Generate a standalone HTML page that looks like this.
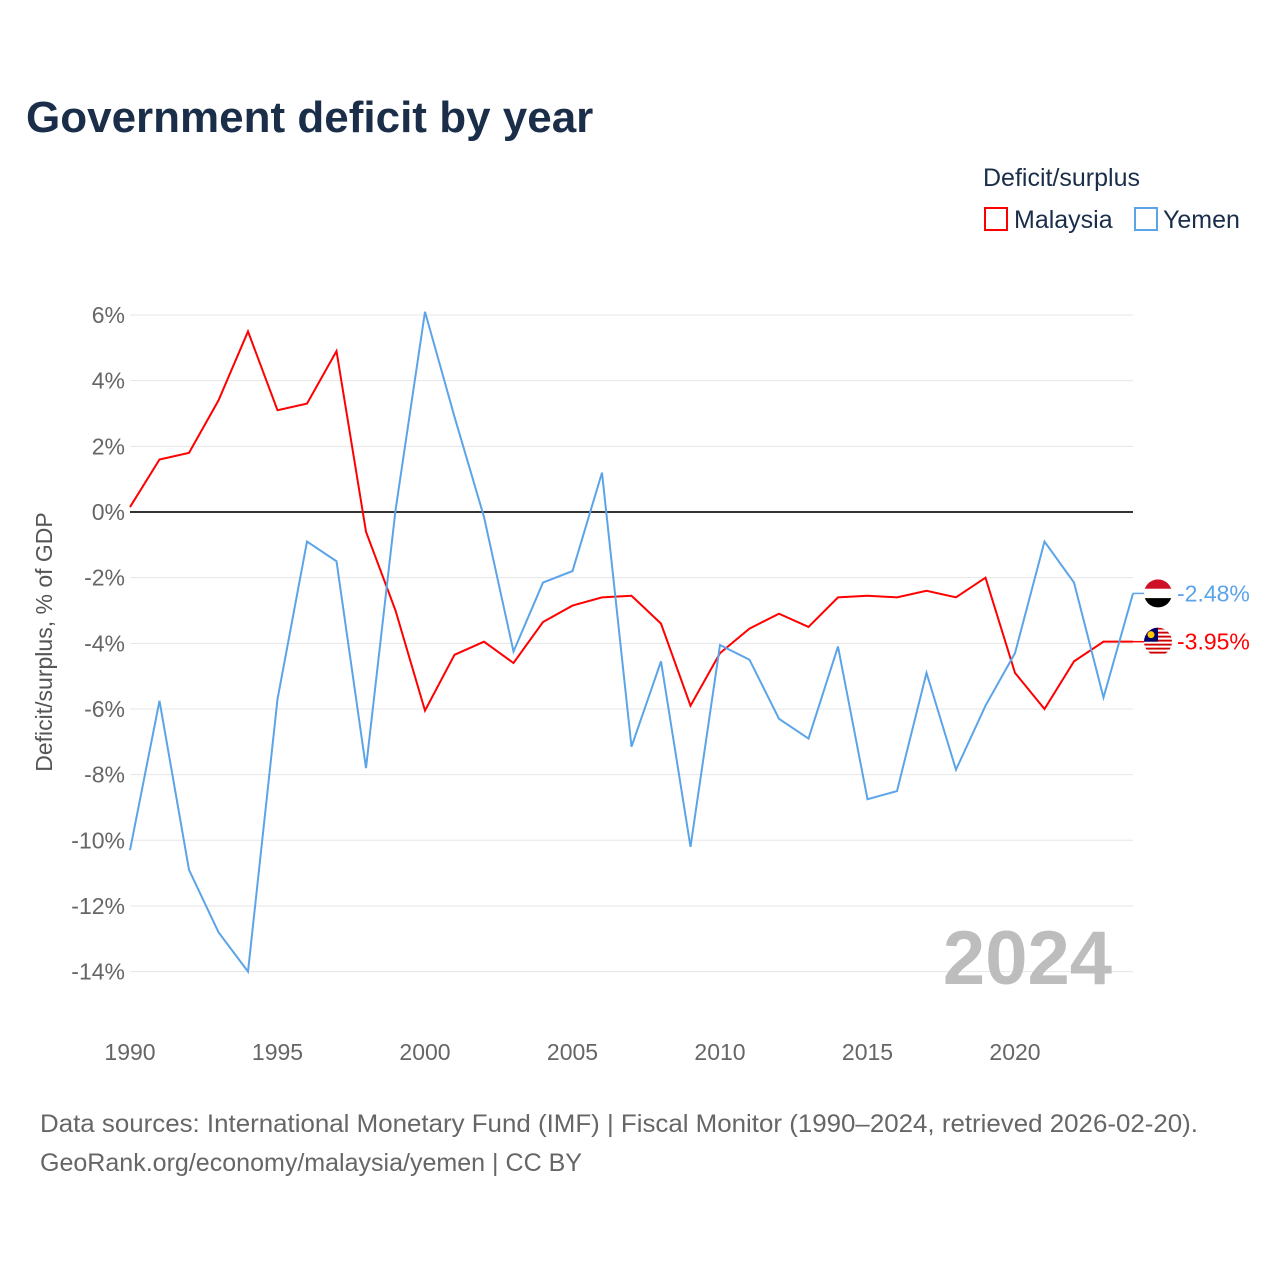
<!DOCTYPE html>
<html><head><meta charset="utf-8"><style>
body{margin:0;background:#fff;font-family:"Liberation Sans",sans-serif}
</style></head><body>
<svg id="c" width="1280" height="1280" xmlns="http://www.w3.org/2000/svg" font-family="Liberation Sans, sans-serif">
<defs><clipPath id="cy"><circle cx="1158" cy="0" r="14"/></clipPath></defs>
<text x="26" y="132" font-size="44" font-weight="bold" fill="#1a2e4a">Government deficit by year</text>
<text x="983" y="186" font-size="25" fill="#1a2e4a">Deficit/surplus</text>
<g><rect x="985" y="208" width="22" height="22" fill="none" stroke="#ff0000" stroke-width="2"/><text x="1014" y="228" font-size="25" fill="#1a2e4a">Malaysia</text></g>
<g><rect x="1135" y="208" width="22" height="22" fill="none" stroke="#5ba4e8" stroke-width="2"/><text x="1163" y="228" font-size="25" fill="#1a2e4a">Yemen</text></g>
<g id="grid"></g>
<text transform="translate(52,642) rotate(-90)" text-anchor="middle" font-size="23" fill="#555">Deficit/surplus, % of GDP</text>
<text x="1112" y="984" text-anchor="end" font-size="76" font-weight="bold" fill="#bdbdbd">2024</text>
<g id="marks"></g>
<text x="40" y="1132" font-size="25" fill="#666" textLength="1158" lengthAdjust="spacingAndGlyphs">Data sources: International Monetary Fund (IMF) | Fiscal Monitor (1990–2024, retrieved 2026-02-20).</text>
<text x="40" y="1171" font-size="25" fill="#666" textLength="542" lengthAdjust="spacingAndGlyphs">GeoRank.org/economy/malaysia/yemen | CC BY</text>
</svg>
<script>
const years=[1990,1991,1992,1993,1994,1995,1996,1997,1998,1999,2000,2001,2002,2003,2004,2005,2006,2007,2008,2009,2010,2011,2012,2013,2014,2015,2016,2017,2018,2019,2020,2021,2022,2023,2024];
const malaysia=[0.15,1.6,1.8,3.4,5.5,3.1,3.3,4.9,-0.6,-3.0,-6.05,-4.35,-3.95,-4.6,-3.35,-2.85,-2.6,-2.55,-3.4,-5.9,-4.3,-3.55,-3.1,-3.5,-2.6,-2.55,-2.6,-2.4,-2.6,-2.0,-4.9,-6.0,-4.55,-3.95,-3.95];
const yemen=[-10.3,-5.75,-10.9,-12.8,-14.0,-5.7,-0.9,-1.5,-7.8,0.05,6.1,2.9,-0.15,-4.25,-2.15,-1.8,1.2,-7.15,-4.55,-10.2,-4.05,-4.5,-6.3,-6.9,-4.1,-8.75,-8.5,-4.9,-7.85,-5.9,-4.3,-0.9,-2.15,-5.65,-2.48];
const yTicks=[6,4,2,0,-2,-4,-6,-8,-10,-12,-14];
const xTicks=[1990,1995,2000,2005,2010,2015,2020];
const NS="http://www.w3.org/2000/svg";
const X=y=>130+(y-1990)*(1003/34);
const Y=v=>512-v*32.83;
function mk(t,a,p){const e=document.createElementNS(NS,t);for(const k in a)e.setAttribute(k,a[k]);p.appendChild(e);return e;}
const g=document.getElementById('grid'),m=document.getElementById('marks');
yTicks.forEach(v=>{
 const l=mk('line',{x1:130,x2:1133,y1:Y(v),y2:Y(v),stroke:v===0?'#333':'#e6e6e6','stroke-width':v===0?2:1},g);
 
 
 const t=mk('text',{x:125,y:Y(v)+8,'text-anchor':'end','font-size':23,fill:'#666'},g);
 t.textContent=v+'%';
 
 
});
xTicks.forEach(v=>{
 const t=mk('text',{x:X(v),y:1060,'text-anchor':'middle','font-size':23,fill:'#666'},g);
 t.textContent=v;
 
 
});
function flag(cy,isYemen,name){
 const fg=mk('g',{transform:'translate(0,'+cy+')','clip-path':'url(#cy)'},m);
 
 
 if(isYemen){
  mk('rect',{x:1144,y:-14,width:28,height:10,fill:'#ce1126'},fg);
  mk('rect',{x:1144,y:-4.7,width:28,height:9.4,fill:'#fff'},fg);
  mk('rect',{x:1144,y:4.7,width:28,height:10,fill:'#000'},fg);
 } else {
  for(let i=0;i<14;i++) mk('rect',{x:1144,y:-14+i*2,width:28,height:2,fill:i%2?'#fff':'#cc0001'},fg);
  mk('rect',{x:1144,y:-14,width:14,height:14,fill:'#010066'},fg);
  mk('circle',{cx:1151,cy:-7,r:3.5,fill:'#fc0'},fg);
 }
}
function line(vals,col,name,isYemen){
 const p=mk('polyline',{points:vals.map((v,i)=>X(years[i])+','+Y(v)).join(' '),fill:'none',stroke:col,'stroke-width':2},m);
 
 
 const last=vals[vals.length-1],ly=Y(last);
 mk('line',{x1:1133,x2:1145,y1:ly,y2:ly,stroke:col,'stroke-width':1.5},m);
 flag(ly,isYemen,name);
 const t=mk('text',{x:1177,y:ly+8,'font-size':23,fill:col},m);
 t.textContent=last.toFixed(2)+'%';
 
 
}
line(malaysia,'#ff0000','malaysia-line',false);
line(yemen,'#5ba4e8','yemen-line',true);
</script>
</body></html>
